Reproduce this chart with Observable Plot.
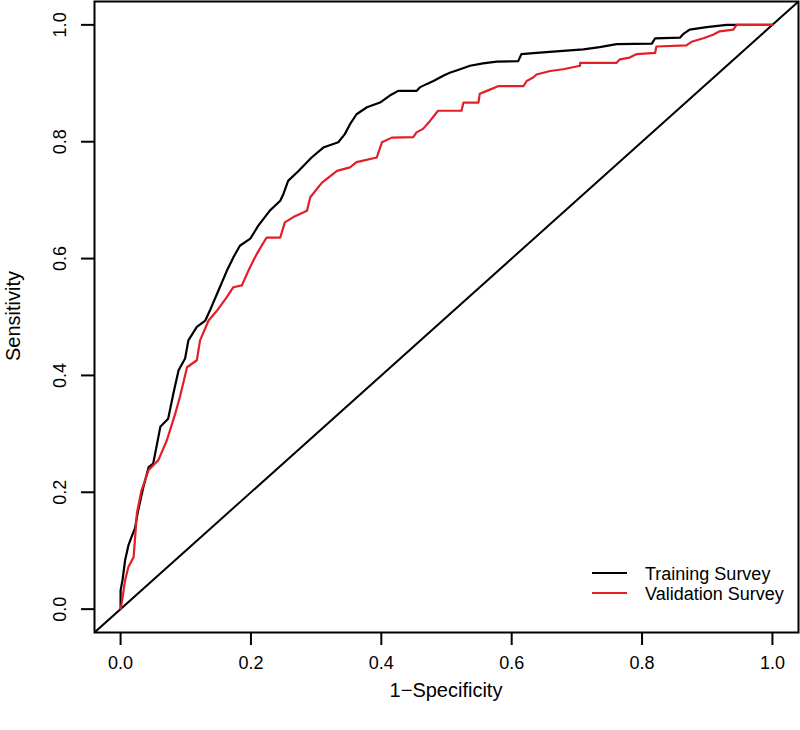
<!DOCTYPE html>
<html>
<head>
<meta charset="utf-8">
<script src="https://cdn.jsdelivr.net/npm/d3@7"></script>
<script src="https://cdn.jsdelivr.net/npm/@observablehq/plot@0.6"></script>
<style>
  html, body { margin: 0; padding: 0; background: #fff; }
  #chart { width: 800px; height: 730px; }
  #chart svg text { font-size: 18px; font-family: 'Liberation Sans', Arial, Helvetica, sans-serif !important; fill: #000; }
  #chart svg text.axis-title { font-size: 20px !important; }
</style>
</head>
<body>
<div id="chart"></div>
<script>
// ---- Data ----
const trainingFPR = [0,0,0.003,0.007,0.012,0.017,0.022,0.027,0.035,0.043,0.05,0.056,0.061,0.073,0.081,0.089,0.099,0.104,0.117,0.13,0.137,0.15,0.163,0.173,0.183,0.199,0.211,0.229,0.245,0.25,0.257,0.273,0.293,0.311,0.334,0.344,0.352,0.362,0.378,0.398,0.413,0.426,0.454,0.459,0.47,0.48,0.495,0.505,0.521,0.536,0.556,0.577,0.61,0.615,0.638,0.684,0.71,0.735,0.761,0.815,0.82,0.858,0.863,0.873,0.899,0.93,1];
const trainingTPR = [0,0.032,0.05,0.084,0.109,0.124,0.138,0.169,0.209,0.243,0.249,0.283,0.312,0.326,0.369,0.409,0.429,0.46,0.483,0.494,0.511,0.545,0.579,0.602,0.622,0.634,0.656,0.682,0.699,0.711,0.733,0.75,0.773,0.79,0.799,0.813,0.83,0.847,0.859,0.867,0.879,0.887,0.887,0.893,0.899,0.904,0.913,0.918,0.924,0.93,0.934,0.937,0.938,0.95,0.952,0.956,0.958,0.962,0.967,0.968,0.977,0.978,0.984,0.992,0.996,1,1];

const validationFPR = [0,0.002,0.007,0.012,0.02,0.022,0.025,0.032,0.043,0.058,0.071,0.084,0.091,0.102,0.117,0.122,0.135,0.148,0.163,0.173,0.186,0.196,0.204,0.209,0.224,0.245,0.252,0.265,0.286,0.291,0.309,0.332,0.352,0.362,0.393,0.401,0.416,0.449,0.454,0.464,0.475,0.487,0.523,0.526,0.549,0.551,0.562,0.579,0.618,0.623,0.633,0.638,0.659,0.679,0.705,0.705,0.761,0.766,0.781,0.792,0.82,0.822,0.868,0.876,0.894,0.909,0.919,0.94,0.945,1];
const validationTPR = [0,0.012,0.05,0.072,0.089,0.118,0.164,0.203,0.238,0.255,0.289,0.335,0.363,0.414,0.426,0.46,0.494,0.511,0.534,0.551,0.554,0.579,0.597,0.608,0.636,0.636,0.662,0.671,0.682,0.705,0.73,0.75,0.756,0.765,0.773,0.799,0.807,0.808,0.816,0.822,0.836,0.853,0.853,0.867,0.867,0.882,0.887,0.895,0.895,0.904,0.91,0.915,0.921,0.924,0.93,0.935,0.935,0.941,0.944,0.95,0.952,0.963,0.965,0.971,0.977,0.983,0.989,0.992,1,1];

const chanceFPR = [-0.04, 1.04];
const chanceTPR = [-0.04, 1.04];

const xTicks = [0, 0.2, 0.4, 0.6, 0.8, 1.0];
const yTicks = [0, 0.2, 0.4, 0.6, 0.8, 1.0];
const seriesNames = ["Training Survey", "Validation Survey"];
const seriesColors = ["#000000", "#e31e26"];
const xLabel = "1\u2212Specificity";
const yLabel = "Sensitivity";

// ---- Build tables ----
const training = trainingFPR.map((x, i) => ({x, y: trainingTPR[i]}));
const validation = validationFPR.map((x, i) => ({x, y: validationTPR[i]}));
const chance = chanceFPR.map((x, i) => ({x, y: chanceTPR[i]}));

const FONT = "'Liberation Sans', Arial, Helvetica, sans-serif";

const chart = Plot.plot({
  width: 800,
  height: 730,
  marginLeft: 94,
  marginRight: 2,
  marginTop: 1,
  marginBottom: 98,
  x: {domain: [-0.04, 1.04]},
  y: {domain: [-0.04, 1.04]},
  style: {fontFamily: FONT, fontSize: "18px", color: "#000", background: "#fff", overflow: "visible"},
  marks: [
    Plot.axisX({ticks: xTicks, tickSize: 13, tickPadding: 11, tickFormat: d => d.toFixed(1), label: null, strokeWidth: 2}),
    Plot.axisY({ticks: yTicks, tickSize: 13, tickPadding: 16, tickRotate: -90, tickFormat: d => d.toFixed(1), label: null, strokeWidth: 2}),
    Plot.line(chance, {x: "x", y: "y", stroke: "#000", strokeWidth: 2, clip: true}),
    Plot.line(training, {x: "x", y: "y", stroke: seriesColors[0], strokeWidth: 2.2}),
    Plot.line(validation, {x: "x", y: "y", stroke: seriesColors[1], strokeWidth: 2.2}),
    Plot.frame({stroke: "#000", strokeWidth: 2})
  ]
});

const svg = d3.select(chart);
svg.append("text")
  .attr("class", "axis-title")
  .attr("x", 446).attr("y", 697)
  .style("text-anchor", "middle")
  .text(xLabel);
svg.append("text")
  .attr("class", "axis-title")
  .attr("transform", "translate(20,316) rotate(-90)")
  .style("text-anchor", "middle")
  .text(yLabel);

const legend = svg.append("g");
seriesNames.forEach((name, i) => {
  const cy = 573 + i * 20;
  legend.append("line")
    .attr("x1", 592).attr("x2", 627).attr("y1", cy).attr("y2", cy)
    .attr("stroke", seriesColors[i]).attr("stroke-width", 2.2);
  legend.append("text")
    .attr("x", 645).attr("y", cy + 6.5)
    .style("text-anchor", "start")
    .text(name);
});

document.getElementById("chart").appendChild(chart);
</script>
</body>
</html>
